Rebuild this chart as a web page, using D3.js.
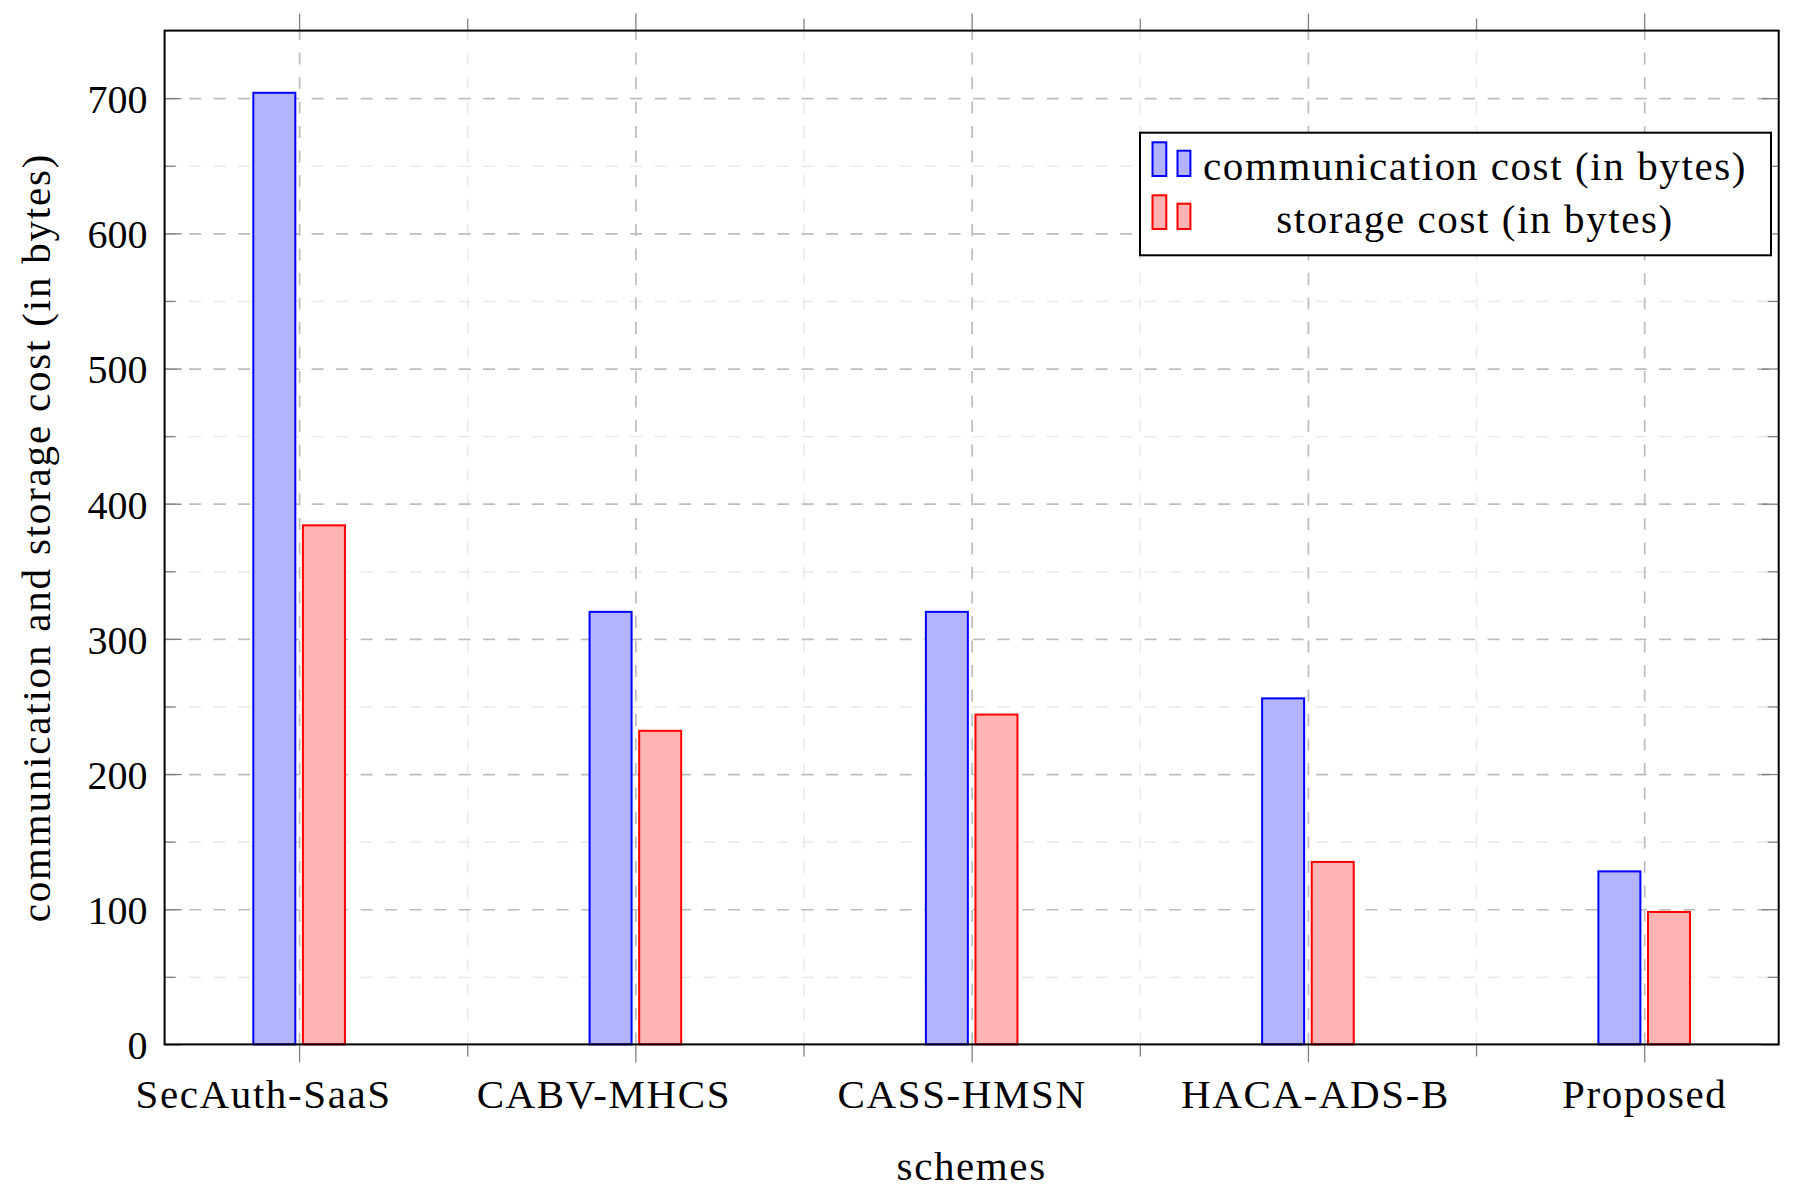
<!DOCTYPE html>
<html>
<head>
<meta charset="utf-8">
<script src="https://cdn.jsdelivr.net/npm/d3@7"></script>
<style>
  html, body { margin: 0; padding: 0; background: #fff; }
  svg { display: block; }
  text { font-family: "Liberation Serif", "Times New Roman", serif; fill: #000; }
</style>
</head>
<body>
<svg id="chart" width="1798" height="1192"></svg>
<script>
// data
const schemes = ["SecAuth-SaaS", "CABV-MHCS", "CASS-HMSN", "HACA-ADS-B", "Proposed"];
const commCost = [704, 320, 320, 256, 128];
const storageCost = [384, 232, 244, 135, 98];
const seriesNames = ["communication cost (in bytes)", "storage cost (in bytes)"];
const yMajorTicks = [0, 100, 200, 300, 400, 500, 600, 700];
const yMinorTicks = [50, 150, 250, 350, 450, 550, 650];

// layout
const W = 1798, H = 1192;
const L = 164.6, R = 1778.7, T = 30.6, B = 1044.4;
const barW = 42, halfGap = 3.8;
// the tick labels in the original sit a little off their ticks
const labelShift = [-36, -32, -10, 7, 0];

const series = [
  { name: seriesNames[0], values: commCost, fill: "#b3b3ff", stroke: "#0000ff", side: -1 },
  { name: seriesNames[1], values: storageCost, fill: "#ffb3b3", stroke: "#ff0000", side: 1 },
];

const svg = d3.select("#chart");

// x: categories are 0..4, limits enlarged by 0.4 of a step
const xLin = d3.scaleLinear().domain([-0.4, schemes.length - 0.6]).range([L, R]);
const x = d3.scalePoint().domain(schemes).range([L, R]).padding(0.4);
const y = d3.scaleLinear().domain([0, 750]).range([B, T]);
const xMinor = d3.range(schemes.length - 1).map((i) => i + 0.5);

// grid (minor first, major on top)
function grid(g, axis, cls) {
  g.call(axis);
  g.select(".domain").remove();
  g.selectAll("text").remove();
  g.selectAll("line")
    .attr("stroke", cls === "major" ? "#bdbdbd" : "#ebebeb")
    .attr("stroke-width", 1.7)
    .attr("stroke-dasharray", "12,12.5");
}
svg.append("g").attr("transform", `translate(${L},0)`)
  .call((g) => grid(g, d3.axisLeft(y).tickValues(yMinorTicks).tickSize(-(R - L)), "minor"));
svg.append("g").attr("transform", `translate(0,${B})`)
  .call((g) => grid(g, d3.axisBottom(xLin).tickValues(xMinor).tickSize(-(B - T)), "minor"));
svg.append("g").attr("transform", `translate(${L},0)`)
  .call((g) => grid(g, d3.axisLeft(y).tickValues(yMajorTicks.slice(1)).tickSize(-(R - L)), "major"));
svg.append("g").attr("transform", `translate(0,${B})`)
  .call((g) => grid(g, d3.axisBottom(x).tickSize(-(B - T)), "major"));

// bars
series.forEach((s) => {
  svg.append("g")
    .selectAll("rect")
    .data(s.values)
    .join("rect")
    .attr("x", (d, i) => (s.side < 0 ? x(schemes[i]) - halfGap - barW : x(schemes[i]) + halfGap))
    .attr("y", (d) => y(d))
    .attr("width", barW)
    .attr("height", (d) => y(0) - y(d))
    .attr("fill", s.fill)
    .attr("stroke", s.stroke)
    .attr("stroke-width", 2);
});

// tick marks
function ticks(g, axis) {
  g.call(axis);
  g.select(".domain").remove();
  g.selectAll("line").attr("stroke", "#808080").attr("stroke-width", 1.3);
}
const fmt = () => "";
// y: inside, left and right
svg.append("g").attr("transform", `translate(${L},0)`)
  .call((g) => ticks(g, d3.axisLeft(y).tickValues(yMinorTicks).tickSize(-11).tickFormat(fmt)));
svg.append("g").attr("class", "yax").attr("transform", `translate(${L},0)`)
  .call((g) => ticks(g, d3.axisLeft(y).tickValues(yMajorTicks).tickSize(-17).tickPadding(17)));
svg.append("g").attr("transform", `translate(${R},0)`)
  .call((g) => ticks(g, d3.axisRight(y).tickValues(yMinorTicks).tickSize(-11).tickFormat(fmt)));
svg.append("g").attr("transform", `translate(${R},0)`)
  .call((g) => ticks(g, d3.axisRight(y).tickValues(yMajorTicks).tickSize(-17).tickFormat(fmt)));
// x: outside, bottom and top
svg.append("g").attr("transform", `translate(0,${B})`)
  .call((g) => ticks(g, d3.axisBottom(xLin).tickValues(xMinor).tickSize(12).tickFormat(fmt)));
svg.append("g").attr("class", "xax").attr("transform", `translate(0,${B})`)
  .call((g) => ticks(g, d3.axisBottom(x).tickSize(18)));
svg.append("g").attr("transform", `translate(0,${T})`)
  .call((g) => ticks(g, d3.axisTop(xLin).tickValues(xMinor).tickSize(12).tickFormat(fmt)));
svg.append("g").attr("transform", `translate(0,${T})`)
  .call((g) => ticks(g, d3.axisTop(x).tickSize(17).tickFormat(fmt)));

svg.selectAll(".yax text")
  .attr("font-size", 40)
  .attr("font-family", "Liberation Serif")
  .attr("dy", "0.36em")
  .attr("fill", "#000");
svg.selectAll(".xax text")
  .attr("font-size", 41)
  .attr("font-family", "Liberation Serif")
  .attr("letter-spacing", "1.6px")
  .attr("x", (d, i) => labelShift[i])
  .attr("y", 1108 - B)
  .attr("dy", 0)
  .attr("fill", "#000");

// frame
svg.append("rect")
  .attr("x", L).attr("y", T)
  .attr("width", R - L).attr("height", B - T)
  .attr("fill", "none").attr("stroke", "#000").attr("stroke-width", 2);

// axis titles
svg.append("text")
  .attr("x", (L + R) / 2).attr("y", 1180)
  .attr("text-anchor", "middle")
  .attr("font-size", 41).attr("letter-spacing", "1.6px")
  .text("schemes");
svg.append("text")
  .attr("transform", `translate(50,${(T + B) / 2}) rotate(-90)`)
  .attr("text-anchor", "middle")
  .attr("font-size", 41).attr("letter-spacing", "1.8px")
  .text("communication and storage cost (in bytes)");

// legend
const lg = svg.append("g").attr("transform", "translate(1140,132.7)");
lg.append("rect")
  .attr("width", 631).attr("height", 122.6)
  .attr("fill", "#fff").attr("stroke", "#000").attr("stroke-width", 2);
const row = lg.selectAll("g.entry")
  .data(series)
  .join("g")
  .attr("class", "entry")
  .attr("transform", (d, i) => `translate(0,${47.3 + i * 53})`);
row.append("rect")
  .attr("x", 12.5).attr("y", -37.7).attr("width", 13.8).attr("height", 33.7)
  .attr("fill", (d) => d.fill).attr("stroke", (d) => d.stroke).attr("stroke-width", 2);
row.append("rect")
  .attr("x", 37.5).attr("y", -29.3).attr("width", 12.9).attr("height", 25.3)
  .attr("fill", (d) => d.fill).attr("stroke", (d) => d.stroke).attr("stroke-width", 2);
row.append("text")
  .attr("x", 335).attr("y", 0)
  .attr("text-anchor", "middle")
  .attr("font-size", 41).attr("letter-spacing", "1.6px")
  .text((d) => d.name);
</script>
</body>
</html>
